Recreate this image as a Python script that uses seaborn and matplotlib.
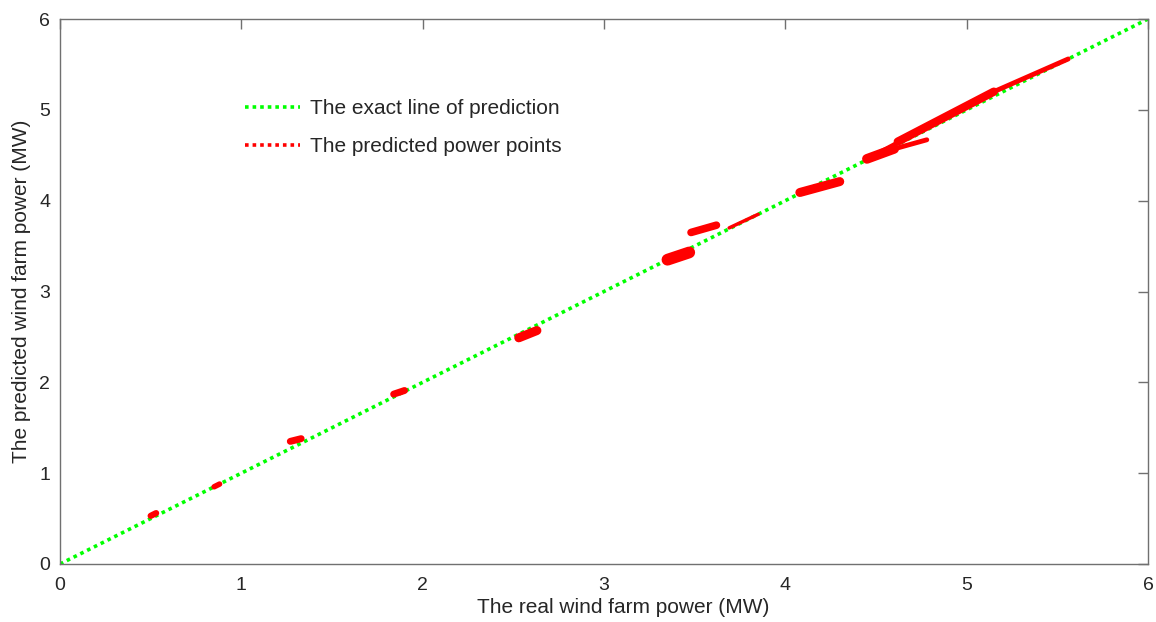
import numpy as np
import pandas as pd
import matplotlib
matplotlib.use("Agg")
import matplotlib.pyplot as plt
from matplotlib.lines import Line2D
import seaborn as sns

# ---- data ----
exact_x = [0, 6]
exact_y = [0, 6]

# predicted power point clusters, traced as short paths (real power, predicted power)
cluster_real = [
    [0.50, 0.53], [0.85, 0.88], [1.27, 1.33], [1.84, 1.90],
    [2.53, 2.63], [3.35, 3.47], [3.48, 3.62], [3.69, 3.85],
    [4.08, 4.30], [4.45, 4.60], [4.60, 4.78],
    [4.48, 4.62], [4.62, 5.15], [5.15, 5.56],
]
cluster_pred = [
    [0.53, 0.56], [0.85, 0.88], [1.35, 1.38], [1.87, 1.91],
    [2.49, 2.57], [3.35, 3.43], [3.65, 3.73], [3.70, 3.85],
    [4.09, 4.21], [4.46, 4.57], [4.57, 4.67],
    [4.50, 4.65], [4.65, 5.20], [5.20, 5.56],
]
cluster_width = [4.5, 4.0, 5.0, 5.0, 6.5, 8.5, 5.5, 2.5, 6.5,
                 7.0, 3.5, 2.0, 6.0, 3.5]

x_ticks = [0, 1, 2, 3, 4, 5, 6]
y_ticks = [0, 1, 2, 3, 4, 5, 6]
x_label = "The real wind farm power (MW)"
y_label = "The predicted wind farm power (MW)"
legend_labels = ["The exact line of prediction", "The predicted power points"]

# ---- plotting ----
sns.set_theme(style="white")
plt.rcParams["font.family"] = ["Liberation Sans", "DejaVu Sans"]
text_color = "#262626"
tick_gray = "#707070"

fig = plt.figure(figsize=(11.56, 6.22), dpi=100)
ax = fig.add_axes([60 / 1156, 58 / 622, 1088 / 1156, 545 / 622])

sns.lineplot(x=exact_x, y=exact_y, ax=ax, color="#00ff00", linewidth=2.6,
             dashes=False, zorder=2)
ax.lines[-1].set_dashes((1.0, 1.1))

for xs, ys, w in zip(cluster_real, cluster_pred, cluster_width):
    sns.lineplot(x=xs, y=ys, ax=ax, color="#ff0000", linewidth=w,
                 sort=False, estimator=None, solid_capstyle="round", zorder=3)

ax.set_xlim(0, 6)
ax.set_ylim(0, 6)
ax.set_xticks(x_ticks)
ax.set_yticks(y_ticks)
ax.set_xlabel(x_label, fontsize=15, color=text_color)
ax.xaxis.set_label_coords(0.518, -0.063, transform=ax.transAxes)
ax.xaxis.label.set_verticalalignment("top")
ax.set_ylabel(y_label, fontsize=15, color=text_color, labelpad=6)
ax.tick_params(direction="in", length=7.5, width=1, top=True, right=True,
               labelsize=14, colors=tick_gray, labelcolor=text_color)
ax.tick_params(axis="x", pad=9)
ax.tick_params(axis="y", pad=7)
for s in ax.spines.values():
    s.set_color(tick_gray)
    s.set_linewidth(1)

handles = [
    Line2D([], [], color="#00ff00", linewidth=2.6, linestyle=(0, (1, 1.1))),
    Line2D([], [], color="#ff0000", linewidth=2.6, linestyle=(0, (1, 1.1))),
]
leg = ax.legend(handles, legend_labels, loc="upper left",
                bbox_to_anchor=(0.170, 0.8525), frameon=False, fontsize=15,
                handlelength=2.65, handletextpad=0.48, labelspacing=0.89,
                borderpad=0, borderaxespad=0)
for t in leg.get_texts():
    t.set_color(text_color)

fig.savefig("out.png", dpi=100)
